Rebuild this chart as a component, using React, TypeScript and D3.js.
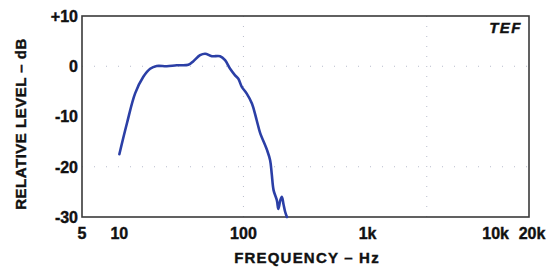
import { useEffect, useRef } from 'react';
import * as d3 from 'd3';

// frequency response (Hz, dB)
const freqs = [10, 11.5, 13.4, 15.6, 17.7, 20, 24.1, 29, 36, 39.5, 44.7, 49.1, 55.6, 64.8, 71.1, 78.1, 85.6, 91, 97, 106, 117, 128, 136, 155, 164, 169, 175, 186, 191, 198, 204, 210, 217, 224];
const levels = [-17.5, -11.4, -5.4, -2.1, -0.5, 0.05, 0, 0.2, 0.3, 1.0, 2.2, 2.5, 2.0, 2.0, 1.2, -0.5, -1.8, -2.5, -4.1, -5.4, -7.4, -10.8, -13.2, -16.7, -18.7, -21.4, -24.7, -26.7, -28.4, -26.7, -26.0, -27.4, -29.0, -30.0];

const xTicks = [5, 10, 100, 1000, 10000, 20000];
const xTickLabels = ['5', '10', '100', '1k', '10k', '20k'];
const yTicks = [10, 0, -10, -20, -30];
const yTickLabels = ['+10', '0', '-10', '-20', '-30'];
const gridFreqs = [100, 3000];
const gridLevels = [0, -20];

export default function App() {
  const svgRef = useRef<SVGSVGElement>(null);

  useEffect(() => {
    if (!svgRef.current) return;
    const svg = d3.select(svgRef.current);
    svg.selectAll('*').remove();

    const width = 559;
    const height = 270;
    const margin = { top: 16, right: 30, bottom: 53, left: 82 };
    const innerWidth = width - margin.left - margin.right;
    const innerHeight = height - margin.top - margin.bottom;

    const xScale = d3.scaleLog().domain([5, 20000]).range([0, innerWidth]);
    const yScale = d3.scaleLinear().domain([-30, 10]).range([innerHeight, 0]);

    const g = svg.append('g')
      .attr('transform', `translate(${margin.left},${margin.top})`);

    const font = '"Liberation Sans", Arial, sans-serif';

    // faint dotted grid
    g.selectAll('.vgrid')
      .data(gridFreqs)
      .enter()
      .append('line')
      .attr('x1', d => xScale(d))
      .attr('x2', d => xScale(d))
      .attr('y1', 0)
      .attr('y2', innerHeight)
      .attr('stroke', '#b8bccc')
      .attr('stroke-width', 1)
      .attr('stroke-dasharray', '1,9');

    g.selectAll('.hgrid')
      .data(gridLevels)
      .enter()
      .append('line')
      .attr('x1', 0)
      .attr('x2', innerWidth)
      .attr('y1', d => yScale(d))
      .attr('y2', d => yScale(d))
      .attr('stroke', '#b8bccc')
      .attr('stroke-width', 1)
      .attr('stroke-dasharray', '1,11');

    // frame
    g.append('rect')
      .attr('x', 0)
      .attr('y', 0)
      .attr('width', innerWidth)
      .attr('height', innerHeight)
      .attr('fill', 'none')
      .attr('stroke', '#3a3a3a')
      .attr('stroke-width', 1.6);

    // response curve
    const line = d3.line<number>()
      .x((_, i) => xScale(freqs[i]))
      .y(d => yScale(d))
      .curve(d3.curveCatmullRom.alpha(0.5));

    g.append('path')
      .datum(levels)
      .attr('d', line)
      .attr('fill', 'none')
      .attr('stroke', '#2b3fa6')
      .attr('stroke-width', 2.6)
      .attr('stroke-linejoin', 'round')
      .attr('stroke-linecap', 'round');

    // x tick labels
    g.selectAll('.xlab')
      .data(xTicks)
      .enter()
      .append('text')
      .attr('x', d => xScale(d))
      .attr('dx', d => (d === 10000 ? 4 : d === 20000 ? 3 : 0))
      .attr('y', innerHeight + 22)
      .attr('text-anchor', 'middle')
      .attr('font-family', font)
      .attr('font-weight', 'bold')
      .attr('font-size', 16)
      .attr('fill', '#111')
      .attr('stroke', '#111')
      .attr('stroke-width', 0.4)
      .text((_, i) => xTickLabels[i]);

    // y tick labels
    g.selectAll('.ylab')
      .data(yTicks)
      .enter()
      .append('text')
      .attr('x', -4)
      .attr('y', d => yScale(d))
      .attr('dy', '0.36em')
      .attr('text-anchor', 'end')
      .attr('font-family', font)
      .attr('font-weight', 'bold')
      .attr('font-size', 16)
      .attr('fill', '#111')
      .attr('stroke', '#111')
      .attr('stroke-width', 0.4)
      .text((_, i) => yTickLabels[i]);

    // axis titles
    svg.append('text')
      .attr('x', 307)
      .attr('y', 263)
      .attr('text-anchor', 'middle')
      .attr('font-family', font)
      .attr('font-weight', 'bold')
      .attr('font-size', 15)
      .attr('letter-spacing', 1.2)
      .attr('fill', '#111')
      .attr('stroke', '#111')
      .attr('stroke-width', 0.4)
      .text('FREQUENCY – Hz');

    svg.append('text')
      .attr('transform', 'translate(26,124) rotate(-90)')
      .attr('text-anchor', 'middle')
      .attr('font-family', font)
      .attr('font-weight', 'bold')
      .attr('font-size', 15)
      .attr('letter-spacing', 0.5)
      .attr('fill', '#111')
      .attr('stroke', '#111')
      .attr('stroke-width', 0.4)
      .text('RELATIVE LEVEL – dB');

    svg.append('text')
      .attr('x', 522)
      .attr('y', 33)
      .attr('text-anchor', 'end')
      .attr('font-family', font)
      .attr('font-weight', 'bold')
      .attr('font-style', 'italic')
      .attr('font-size', 15)
      .attr('letter-spacing', 1.5)
      .attr('fill', '#111')
      .attr('stroke', '#111')
      .attr('stroke-width', 0.4)
      .text('TEF');
  }, []);

  return (
    <svg
      ref={svgRef}
      width={559}
      height={270}
      style={{ display: 'block', position: 'absolute', left: 0, top: 0, background: '#fff' }}
    />
  );
}
